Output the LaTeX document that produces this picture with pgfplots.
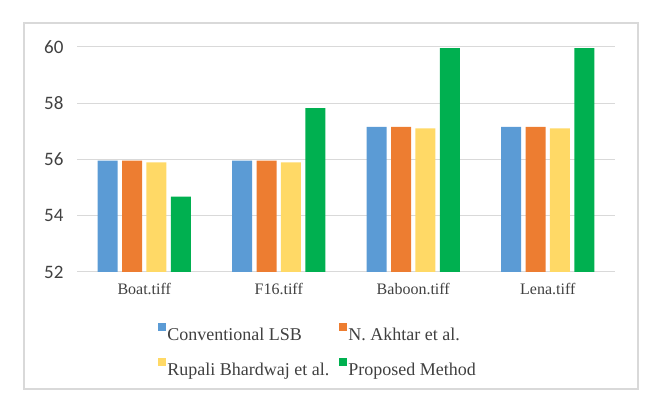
\documentclass[border=0pt]{standalone}
\usepackage{pgfplots}
\pgfplotsset{compat=1.18}
\usepackage{fontspec}
\setmainfont{Liberation Serif}
\newfontfamily\carlito{Carlito}
\definecolor{cblue}{HTML}{5B9BD5}
\definecolor{corange}{HTML}{ED7D31}
\definecolor{cyellow}{HTML}{FFD966}
\definecolor{cgreen}{HTML}{00B050}
\definecolor{gridc}{HTML}{D9D9D9}
\definecolor{txt}{HTML}{404040}
\begin{document}
\begin{tikzpicture}
\path[use as bounding box] (0bp,0bp) rectangle (654bp,405bp);
\draw[gridc, line width=1.2bp] (24bp,16bp) rectangle (638bp,382bp);
\begin{axis}[
  at={(77bp,133bp)}, anchor=south west,
  scale only axis, width=538bp, height=225bp,
  xmin=-0.5, xmax=3.5, ymin=52, ymax=60,
  ytick={52,54,56,58,60},
  xtick={0,1,2,3},
  xticklabels={Boat.tiff, F16.tiff, Baboon.tiff, Lena.tiff},
  major tick length=0pt,
  axis lines*=left,
  y axis line style={draw=none},
  x axis line style={draw=gridc, line width=1bp},
  ymajorgrids, grid style={draw=gridc, line width=1bp},
  ybar=4.4bp, bar width=20bp,
  /pgf/number format/assume math mode=true,
  yticklabel style={font=\carlito\fontsize{19bp}{22bp}\selectfont, text=txt, xshift=-10bp},
  xticklabel style={font=\fontsize{16bp}{19bp}\selectfont, text=txt, yshift=-7.5bp},
  legend columns=2,
  legend cell align=left,
  legend style={draw=none, fill=none, at={(axis description cs:0.15,-0.225)}, anchor=north west,
    font=\fontsize{18bp}{21bp}\selectfont, text=txt, inner sep=0pt,
    /tikz/every even column/.append style={column sep=8bp},
    row sep=15bp,
    nodes={inner sep=1.5bp}},
  legend image code/.code={\fill[#1, draw=none] (0bp,4bp) rectangle (8bp,12bp);},
]
\addplot[fill=cblue, draw=none] coordinates {(0,55.96) (1,55.96) (2,57.16) (3,57.16)};
\addplot[fill=corange, draw=none] coordinates {(0,55.96) (1,55.96) (2,57.16) (3,57.16)};
\addplot[fill=cyellow, draw=none] coordinates {(0,55.90) (1,55.90) (2,57.11) (3,57.11)};
\addplot[fill=cgreen, draw=none] coordinates {(0,54.68) (1,57.83) (2,59.96) (3,59.96)};
\legend{Conventional LSB, N. Akhtar et al., Rupali Bhardwaj et al., Proposed Method}
\end{axis}
\end{tikzpicture}
\end{document}
